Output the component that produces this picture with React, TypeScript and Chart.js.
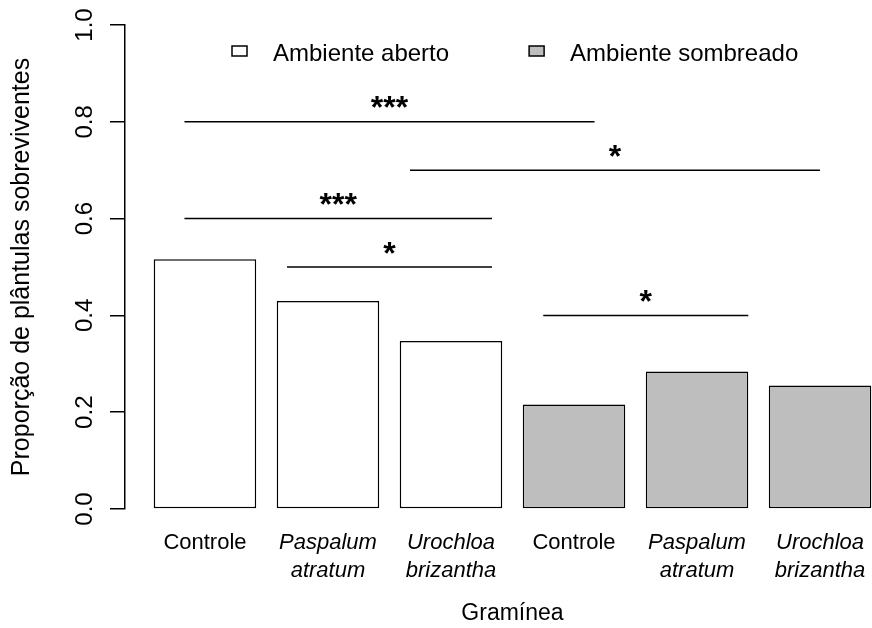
import { useEffect, useRef } from 'react';
import { Chart, registerables } from 'chart.js';

Chart.register(...registerables);

// ---- data ----
const categories = ['Controle', 'Paspalum atratum', 'Urochloa brizantha', 'Controle', 'Paspalum atratum', 'Urochloa brizantha'];
const tickLabels = [['Controle'], ['Paspalum', 'atratum'], ['Urochloa', 'brizantha'], ['Controle'], ['Paspalum', 'atratum'], ['Urochloa', 'brizantha']];
const labelItalic = [false, true, true, false, true, true];
const barCenters = [0.7, 1.9, 3.1, 4.3, 5.5, 6.7];
const openValues = [0.516, 0.430, 0.347];
const shadedValues = [0.216, 0.284, 0.255];
const seriesNames = ['Ambiente aberto', 'Ambiente sombreado'];
const seriesColors = ['#FFFFFF', '#BEBEBE'];
const sigStart = [0.5, 2.7, 0.5, 1.5, 4.0];
const sigEnd = [4.5, 6.7, 3.5, 3.5, 6.0];
const sigLevel = [0.8, 0.7, 0.6, 0.5, 0.4];
const sigMarks = ['***', '*', '***', '*', '*'];
const sigOffset = 0.04;
const yTitle = 'Proporção de plântulas sobreviventes';
const xTitle = 'Gramínea';

const FONT = '"Liberation Sans", Arial, Helvetica, sans-serif';
const LW = 1.5;

const overlay = {
  id: 'overlay',
  afterDraw(chart: any) {
    const { ctx, chartArea, scales } = chart;
    const x = scales.x;
    const y = scales.y;
    ctx.save();
    ctx.fillStyle = '#000';
    ctx.strokeStyle = '#000';

    // rotated y tick labels
    ctx.font = `24px ${FONT}`;
    ctx.textAlign = 'center';
    ctx.textBaseline = 'alphabetic';
    y.ticks.forEach((t: any) => {
      const py = y.getPixelForValue(t.value);
      ctx.save();
      ctx.translate(chartArea.left - 33, py);
      ctx.rotate(-Math.PI / 2);
      ctx.fillText(Number(t.value).toFixed(1), 0, 0);
      ctx.restore();
    });

    // significance marks
    ctx.font = `bold 32px ${FONT}`;
    ctx.textAlign = 'center';
    ctx.textBaseline = 'alphabetic';
    sigMarks.forEach((m, i) => {
      const px = x.getPixelForValue((sigStart[i] + sigEnd[i]) / 2);
      const py = y.getPixelForValue(sigLevel[i] + sigOffset);
      const mt = ctx.measureText(m);
      const base = py + (mt.actualBoundingBoxAscent - mt.actualBoundingBoxDescent) / 2;
      ctx.fillText(m, px, base);
    });

    // legend
    ctx.font = `24px ${FONT}`;
    ctx.textAlign = 'left';
    ctx.lineWidth = LW;
    let bx = chartArea.left + 107;
    const boxW = 15;
    const boxH = 10;
    const by = 46;
    const bars = chart.data.datasets.filter((d: any) => d.type === 'bar');
    bars.forEach((d: any) => {
      ctx.fillStyle = d.backgroundColor;
      ctx.fillRect(bx, by, boxW, boxH);
      ctx.strokeRect(bx, by, boxW, boxH);
      ctx.fillStyle = '#000';
      const tx = bx + boxW + 26;
      ctx.fillText(d.label, tx, 61);
      bx = tx + ctx.measureText(d.label).width + 80;
    });
    ctx.restore();
  },
};

export default function App() {
  const ref = useRef<HTMLCanvasElement>(null);

  useEffect(() => {
    if (!ref.current) return;
    const datasets: any[] = [
      {
        type: 'bar',
        label: seriesNames[0],
        data: openValues.map((v, i) => ({ x: barCenters[i], y: v })),
        backgroundColor: seriesColors[0],
        borderColor: '#000',
        borderWidth: LW,
        borderSkipped: false,
        grouped: false,
        barPercentage: 1,
        categoryPercentage: 1 / 1.2,
      },
      {
        type: 'bar',
        label: seriesNames[1],
        data: shadedValues.map((v, i) => ({ x: barCenters[i + 3], y: v })),
        backgroundColor: seriesColors[1],
        borderColor: '#000',
        borderWidth: LW,
        borderSkipped: false,
        grouped: false,
        barPercentage: 1,
        categoryPercentage: 1 / 1.2,
      },
      ...sigLevel.map((lv, i) => ({
        type: 'line',
        label: `sig${i}`,
        data: [{ x: sigStart[i], y: lv }, { x: sigEnd[i], y: lv }],
        borderColor: '#000',
        borderWidth: LW,
        pointRadius: 0,
        fill: false,
      })),
    ];

    const chart = new Chart(ref.current, {
      type: 'bar',
      data: { datasets },
      plugins: [overlay],
      options: {
        animation: false,
        responsive: false,
        maintainAspectRatio: false,
        layout: { padding: { top: 25, left: 0, right: 0, bottom: 0 } },
        plugins: { legend: { display: false }, tooltip: { enabled: false } },
        scales: {
          x: {
            type: 'linear',
            min: -0.08,
            max: 7.48,
            offset: false,
            grid: { display: false, drawTicks: false, offset: false },
            border: { display: false },
            afterBuildTicks: (scale: any) => {
              scale.ticks = barCenters.map((v) => ({ value: v }));
            },
            afterFit: (scale: any) => {
              scale.height = 119;
            },
            ticks: {
              autoSkip: false,
              maxRotation: 0,
              minRotation: 0,
              padding: 20,
              color: '#000',
              callback: (_v: any, i: number) => tickLabels[i],
              font: (ctx: any) => ({
                family: FONT,
                size: 22,
                style: labelItalic[ctx.index] ? 'italic' : 'normal',
                lineHeight: 1.27,
              }),
            },
            title: {
              display: true,
              text: xTitle,
              color: '#000',
              font: { family: FONT, size: 23, lineHeight: 1 },
              padding: { top: 0, bottom: 3 },
            },
          },
          y: {
            type: 'linear',
            min: 0,
            max: 1,
            ticks: { stepSize: 0.2, display: false },
            grid: { drawOnChartArea: false, drawTicks: true, tickLength: 15, color: '#000', lineWidth: LW },
            border: { display: true, color: '#000', width: LW },
            afterFit: (scale: any) => {
              scale.width = 125;
            },
            title: {
              display: true,
              text: yTitle,
              color: '#000',
              font: { family: FONT, size: 25, lineHeight: 1 },
              padding: { top: 10, bottom: 0 },
            },
          },
        },
      } as any,
    });
    return () => chart.destroy();
  }, []);

  return (
    <div style={{ position: 'fixed', left: 0, top: 0, width: 872, height: 628, overflow: 'hidden', background: '#fff' }}>
      <canvas ref={ref} width={900} height={628} style={{ display: 'block' }} />
    </div>
  );
}
